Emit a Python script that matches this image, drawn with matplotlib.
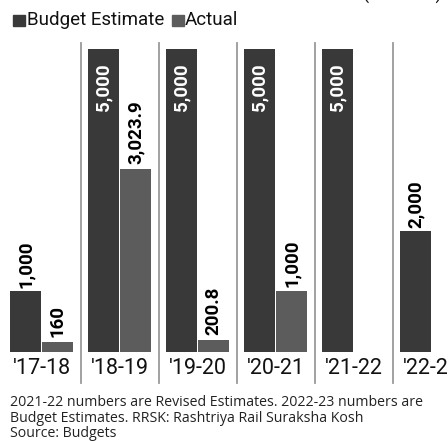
import matplotlib
matplotlib.use("Agg")
import matplotlib.pyplot as plt
from matplotlib.patches import Rectangle
import numpy as np

categories = ["'17-18", "'18-19", "'19-20", "'20-21", "'21-22", "'22-23"]
budget_estimate = [1000, 5000, 5000, 5000, 5000, 2000]
actual = [160, 3023.9, 200.8, 1000, None, None]
be_labels = ["1,000", "5,000", "5,000", "5,000", "5,000", "2,000"]
act_labels = ["160", "3,023.9", "200.8", "1,000", None, None]

BE_COLOR = "#393939"
ACT_COLOR = "#5c5c5c"
COND = "Roboto"

W, H = 448, 441
fig = plt.figure(figsize=(W / 100, H / 100), dpi=100)

# axes geometry in pixels
x0_px = 41.5
pitch = 78.0
base_px = 352
top_px = 49
ax = fig.add_axes([0, (H - base_px) / H, 1, (base_px - top_px) / H])
ax.set_xlim(-x0_px / pitch, (W - x0_px) / pitch)
ax.set_ylim(0, 5000)
ax.axis("off")

x = np.arange(len(categories))
bw = 0.4
off = 0.205
VFS = 13.5
for i in range(len(categories)):
    be = budget_estimate[i]
    ax.bar(x[i] - off, be, width=bw, color=BE_COLOR, zorder=2)
    if be >= 5000:
        ax.text(x[i] - off, be - 230, be_labels[i], rotation=90, ha="center", va="top",
                color="white", fontsize=VFS, family=COND, fontweight="bold")
    else:
        ax.text(x[i] - off, be + 50, be_labels[i], rotation=90, ha="center", va="bottom",
                color="black", fontsize=VFS, family=COND, fontweight="bold")
    a = actual[i]
    if a is not None:
        ax.bar(x[i] + off, a, width=bw, color=ACT_COLOR, zorder=2)
        ax.text(x[i] + off, a + 80, act_labels[i], rotation=90, ha="center", va="bottom",
                color="black", fontsize=VFS, family=COND, fontweight="bold")

# separators
per_px = 5000 / (base_px - top_px)
for i in range(len(categories) - 1):
    xs = i + 0.5
    ax.plot([xs, xs], [-(383 - base_px) * per_px, (base_px - 43) * per_px],
            color="#9a9a9a", lw=1.3, clip_on=False, zorder=1)

# category labels
for i, c in enumerate(categories):
    ax.text(x[i], -(368 - base_px) * per_px, c, ha="center", va="center",
            fontsize=15.5, family=COND, color="#111111", clip_on=False)

# legend
def fig_rect(px, py, w, h, color):
    fig.patches.append(Rectangle((px / W, 1 - (py + h) / H), w / W, h / H,
                                 transform=fig.transFigure, color=color))

fig_rect(13, 15, 12, 11, BE_COLOR)
fig.text(27 / W, 1 - 20 / H, "Budget Estimate", ha="left", va="center",
         fontsize=13.5, family=COND, color="#111111")
fig_rect(172, 15, 12, 11, ACT_COLOR)
fig.text(185 / W, 1 - 20 / H, "Actual", ha="left", va="center",
         fontsize=13.5, family=COND, color="#111111")

# cut-off unit text top right
fig.text(442 / W, 1 - 4 / H, "(Rs crore)", ha="right", va="bottom",
         fontsize=13, family=COND, color="#111111")

# footnote
fig.text(10 / W, 1 - 395 / H,
         "2021-22 numbers are Revised Estimates. 2022-23 numbers are\n"
         "Budget Estimates. RRSK: Rashtriya Rail Suraksha Kosh\n"
         "Source: Budgets",
         ha="left", va="top", fontsize=10.2, family="Open Sans",
         color="#222222", linespacing=1.05)

fig.savefig("out.png", dpi=100)
